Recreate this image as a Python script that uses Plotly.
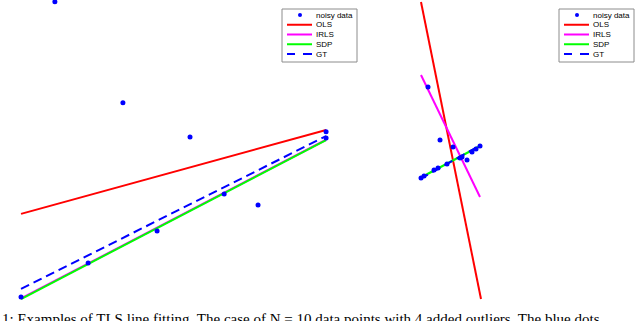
import plotly.graph_objects as go

# ---------------- data (arbitrary units) ----------------
# Left panel: N = 10 noisy points
left_pts_x = [1.11, 3.34, 5.54, 10.0, 7.77, 6.66, 4.46, 2.20, 0.0, 10.0]
left_pts_y = [9.74, 6.43, 5.31, 5.48, 3.08, 3.44, 2.23, 1.18, 0.07, 5.28]
left_line_x = [0.0, 10.0]
left_ols_y = [2.79, 5.54]
left_irls_y = [0.02, 5.22]
left_sdp_y = [0.0, 5.21]
left_gt_y = [0.33, 5.34]

# Right panel
right_pts_x = [0.4, 1.0, 1.65, 2.35, 0.05, 0.2, 0.7, 0.9, 1.35, 2.0, 2.1, 2.6, 2.8, 3.0]
right_pts_y = [10.65, 8.0, 7.65, 7.0, 6.1, 6.2, 6.5, 6.6, 6.8, 7.1, 7.15, 7.4, 7.55, 7.7]
right_ols_x = [0.05, 3.05]
right_ols_y = [14.9, 0.05]
right_irls_x = [0.05, 3.0]
right_irls_y = [11.25, 5.15]
right_sdp_x = [0.0, 3.0]
right_sdp_y = [6.1, 7.7]
right_gt_x = [0.0, 3.05]
right_gt_y = [6.05, 7.75]

legend_labels = ["noisy data", "OLS", "IRLS", "SDP", "GT"]
caption = "1: Examples of TLS line fitting. The case of N = 10 data points with 4 added outliers. The blue dots"

BLUE, RED, MAG, GREEN = "#0000FF", "#FF0000", "#FF00FF", "#00FF00"
W, H = 640, 321

fig = go.Figure()

def add_panel(xa, ya, px, py, ols, irls, sdp, gt):
    fig.add_trace(go.Scatter(x=ols[0], y=ols[1], mode="lines", line=dict(color=RED, width=2),
                             xaxis=xa, yaxis=ya, showlegend=False, cliponaxis=False))
    fig.add_trace(go.Scatter(x=irls[0], y=irls[1], mode="lines", line=dict(color=MAG, width=2),
                             xaxis=xa, yaxis=ya, showlegend=False, cliponaxis=False))
    fig.add_trace(go.Scatter(x=sdp[0], y=sdp[1], mode="lines", line=dict(color=GREEN, width=2),
                             xaxis=xa, yaxis=ya, showlegend=False, cliponaxis=False))
    fig.add_trace(go.Scatter(x=gt[0], y=gt[1], mode="lines",
                             line=dict(color=BLUE, width=2, dash="9px,5px"),
                             xaxis=xa, yaxis=ya, showlegend=False, cliponaxis=False))
    fig.add_trace(go.Scatter(x=px, y=py, mode="markers", marker=dict(color=BLUE, size=5),
                             xaxis=xa, yaxis=ya, showlegend=False, cliponaxis=False))

add_panel("x", "y", left_pts_x, left_pts_y,
          (left_line_x, left_ols_y), (left_line_x, left_irls_y),
          (left_line_x, left_sdp_y), (left_line_x, left_gt_y))
add_panel("x2", "y2", right_pts_x, right_pts_y,
          (right_ols_x, right_ols_y), (right_irls_x, right_irls_y),
          (right_sdp_x, right_sdp_y), (right_gt_x, right_gt_y))

hidden = dict(visible=False, showgrid=False, zeroline=False, fixedrange=True)
fig.update_layout(
    width=W, height=H, margin=dict(l=0, r=0, t=0, b=0),
    paper_bgcolor="white", plot_bgcolor="white",
    xaxis=dict(domain=[0, 0.55], range=[-0.689, 10.85], **hidden),
    yaxis=dict(domain=[0, 1], range=[-0.72, 9.80], **hidden),
    xaxis2=dict(domain=[0.6, 1], range=[-1.8, 11.0], **hidden),
    yaxis2=dict(domain=[0, 1], range=[-1.05, 15.0], anchor="x2", **hidden),
    showlegend=False,
)

# ---------------- custom compact legends ----------------
def X(p):
    return p / W

def Y(p):
    return 1 - p / H

shapes, annos = [], []
styles = [None, (RED, "solid"), (MAG, "solid"), (GREEN, "solid"), (BLUE, "dash")]
for left in (282, 559):
    shapes.append(dict(type="rect", xref="paper", yref="paper",
                       x0=X(left), x1=X(left + 75), y0=Y(9), y1=Y(62),
                       line=dict(color="#8c8c8c", width=1), fillcolor="white", layer="above"))
    for i, lab in enumerate(legend_labels):
        yy = 15 + i * 9.75
        if styles[i] is None:
            shapes.append(dict(type="circle", xref="paper", yref="paper",
                               x0=X(left + 16), x1=X(left + 20), y0=Y(yy - 2), y1=Y(yy + 2),
                               fillcolor=BLUE, line=dict(color=BLUE, width=0), layer="above"))
        else:
            col, dsh = styles[i]
            if dsh == "dash":
                for a, b in ((5, 13), (21, 30)):
                    shapes.append(dict(type="line", xref="paper", yref="paper",
                                       x0=X(left + a), x1=X(left + b), y0=Y(yy), y1=Y(yy),
                                       line=dict(color=col, width=2), layer="above"))
            else:
                shapes.append(dict(type="line", xref="paper", yref="paper",
                                   x0=X(left + 5), x1=X(left + 30), y0=Y(yy), y1=Y(yy),
                                   line=dict(color=col, width=2), layer="above"))
        annos.append(dict(xref="paper", yref="paper", x=X(left + 32), y=Y(yy),
                          text=lab, showarrow=False, xanchor="left", yanchor="middle",
                          font=dict(family="Liberation Sans, Arial", size=8, color="black")))

annos.append(dict(xref="paper", yref="paper", x=X(0), y=Y(318.5), text=caption,
                  showarrow=False, xanchor="left", yanchor="middle",
                  font=dict(family="Liberation Serif, Times New Roman", size=15, color="black")))

fig.update_layout(shapes=shapes, annotations=annos)
fig.write_html("out.html", config={"displayModeBar": False},
               post_script="document.body.style.margin='0';document.body.style.overflow='hidden';")
